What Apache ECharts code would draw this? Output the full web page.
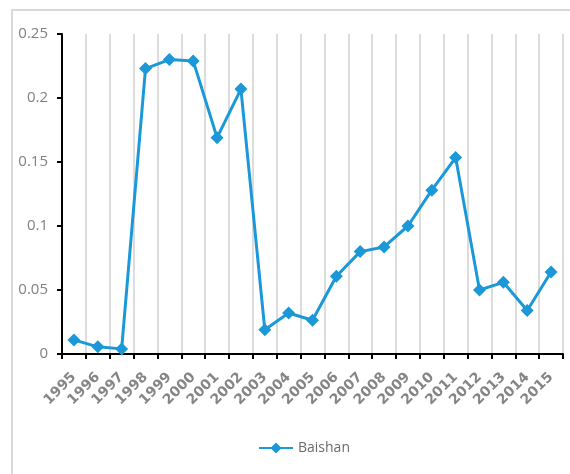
<!DOCTYPE html>
<html>
<head>
<meta charset="utf-8">
<script src="https://cdn.jsdelivr.net/npm/echarts@6/dist/echarts.min.js"></script>
<style>
    html, body { margin: 0; padding: 0; background: #fff; }
    #chart { width: 570px; height: 474px; }
</style>
</head>
<body>
<div id="chart"></div>
<script>
// years along the bottom
var years = ['1995', '1996', '1997', '1998', '1999', '2000', '2001', '2002', '2003', '2004', '2005',
    '2006', '2007', '2008', '2009', '2010', '2011', '2012', '2013', '2014', '2015'];
// Baishan series
var baishan = [0.011, 0.0056, 0.004, 0.223, 0.23, 0.229, 0.169, 0.207, 0.019, 0.032, 0.0264,
    0.0607, 0.080, 0.0836, 0.100, 0.128, 0.1535, 0.050, 0.056, 0.034, 0.064];
var yTicks = [0, 0.05, 0.1, 0.15, 0.2, 0.25];

var lineColor = '#1b98d8';

var myChart = echarts.init(document.getElementById('chart'));
myChart.setOption({
    animation: false,
    graphic: [{
        type: 'rect',
        shape: { x: 12, y: 10, width: 700, height: 600 },
        style: { fill: 'none', stroke: '#d9d9d9', lineWidth: 2 },
        silent: true
    }],
    grid: { left: 62, right: 7, top: 34, bottom: 120 },
    legend: {
        top: 436,
        left: 253,
        itemWidth: 34,
        itemHeight: 14,
        itemGap: 4,
        textStyle: { color: '#6a6a6a', fontSize: 14, fontFamily: 'Open Sans' },
        data: ['Baishan']
    },
    xAxis: {
        type: 'category',
        data: years,
        boundaryGap: true,
        axisLine: { lineStyle: { color: '#000', width: 2 } },
        axisTick: { show: true, length: 5, lineStyle: { color: '#000', width: 2 } },
        splitLine: { show: true, lineStyle: { color: '#dcdcdc', width: 2 } },
        axisLabel: {
            interval: 0,
            rotate: 45,
            margin: 21,
            color: '#858585',
            fontSize: 14,
            fontWeight: 'bold',
            fontFamily: 'DejaVu Sans'
        }
    },
    yAxis: {
        type: 'value',
        min: yTicks[0],
        max: yTicks[yTicks.length - 1],
        interval: 0.05,
        axisLine: { show: true, lineStyle: { color: '#000', width: 2 } },
        axisTick: { show: true, length: 5, lineStyle: { color: '#000', width: 2 } },
        splitLine: { show: false },
        axisLabel: {
            margin: 14,
            color: '#808080',
            fontSize: 15,
            fontFamily: 'Open Sans',
            formatter: function (v) { return String(+v.toFixed(2)); }
        }
    },
    series: [{
        name: 'Baishan',
        type: 'line',
        data: baishan,
        symbol: 'diamond',
        symbolSize: 13,
        itemStyle: { color: lineColor },
        lineStyle: { color: lineColor, width: 3 }
    }]
});
</script>
</body>
</html>
